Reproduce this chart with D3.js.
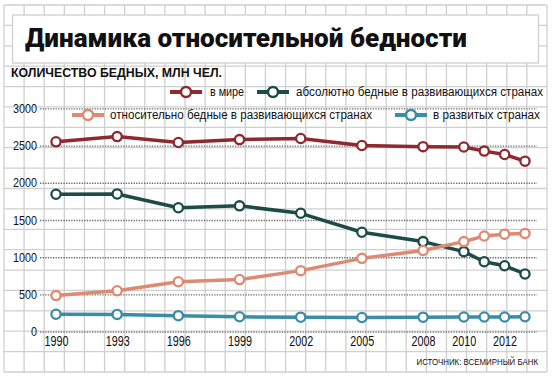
<!DOCTYPE html>
<html>
  <head>
    <meta charset='utf-8' />
    <title>Динамика относительной бедности</title>
    <script src="https://d3js.org/d3.v7.min.js"></script>
    <style>
body {
  margin: 0;
  background: #fff;
  font-family: "Liberation Sans", Arial, sans-serif;
}
.grid line {
  stroke: #cfcfcf;
  stroke-width: 1.3px;
}
.yaxis line {
  stroke: #6a6a6a;
  stroke-width: 1.3px;
  stroke-dasharray: 1.3,1.3;
}
.yaxis path, .xaxis path, .xaxis line {
  display: none;
}
.yaxis text, .xaxis text {
  font-family: "Liberation Sans Narrow", "Liberation Sans", Arial, sans-serif;
  fill: #111;
}
.narrow {
  font-family: "Liberation Sans Narrow", "Liberation Sans", Arial, sans-serif;
}
    </style>
  </head>
  <body>
    <div id="graphic"></div>
    <script>
      // data, millions of people
      const years = [1990, 1993, 1996, 1999, 2002, 2005, 2008, 2010, 2011, 2012, 2013];
      const world = [2550, 2620, 2540, 2580, 2595, 2500, 2485, 2480, 2425, 2380, 2290];
      const absPoor = [1845, 1850, 1665, 1690, 1590, 1335, 1210, 1075, 940, 885, 775];
      const relPoor = [485, 550, 670, 700, 820, 985, 1090, 1210, 1285, 1310, 1320];
      const developed = [235, 232, 215, 200, 195, 190, 195, 198, 198, 198, 200];

      const xTicks = [1990, 1993, 1996, 1999, 2002, 2005, 2008, 2010, 2012];
      const yTicks = [0, 500, 1000, 1500, 2000, 2500, 3000];

      const seriesNames = ["в мире", "абсолютно бедные в развивающихся странах",
                           "относительно бедные в развивающихся странах", "в развитых странах"];
      const seriesColors = ["#8e2930", "#1d4b46", "#de8a72", "#3a8ca7"];
      const seriesValues = [world, absPoor, relPoor, developed];

      const W = 552, H = 380;

      const svg = d3.select("#graphic").append("svg")
        .attr("width", W)
        .attr("height", H);

      // graph paper background
      const grid = svg.append("g").attr("class", "grid");
      const gx = d3.scaleLinear().domain([0, 27]).range([4, 547]);
      const gy = d3.scaleLinear().domain([0, 18]).range([5, 372]);
      grid.selectAll(".v").data(d3.range(28)).enter().append("line")
        .attr("x1", d => gx(d)).attr("x2", d => gx(d))
        .attr("y1", gy(0)).attr("y2", gy(18));
      grid.selectAll(".h").data(d3.range(19)).enter().append("line")
        .attr("x1", gx(0)).attr("x2", gx(27))
        .attr("y1", d => gy(d)).attr("y2", d => gy(d));

      // title box
      svg.append("rect")
        .attr("x", 12.5).attr("y", 15)
        .attr("width", 526).attr("height", 48)
        .style("fill", "#fff")
        .style("stroke", "#cfcfcf")
        .style("stroke-width", 1.3);

      svg.append("text")
        .attr("x", 25).attr("y", 47)
        .attr("textLength", 442)
        .attr("lengthAdjust", "spacingAndGlyphs")
        .style("font-family", "Roboto, 'DejaVu Sans', sans-serif")
        .style("font-weight", 900)
        .style("font-size", "25px")
        .style("fill", "#111")
        .text("Динамика относительной бедности");

      svg.append("text")
        .attr("class", "narrow")
        .attr("x", 11).attr("y", 77)
        .attr("textLength", 211)
        .attr("lengthAdjust", "spacingAndGlyphs")
        .style("font-weight", "bold")
        .style("font-size", "13.5px")
        .style("fill", "#111")
        .text("КОЛИЧЕСТВО БЕДНЫХ, МЛН ЧЕЛ.");

      // scales
      const x = d3.scaleLinear().domain([1990, 2013]).range([56, 525]);
      const y = d3.scaleLinear().domain([0, 3000]).range([331.7, 108.3]);

      // y axis with dotted lines
      const yAxis = svg.append("g")
        .attr("class", "yaxis")
        .attr("transform", "translate(40,0)")
        .call(d3.axisLeft(y).tickValues(yTicks).tickFormat(d3.format("d")).tickSize(-497).tickPadding(3));
      yAxis.selectAll("text")
        .style("font-size", "13px")
        .attr("textLength", d => String(d).length * 6)
        .attr("lengthAdjust", "spacingAndGlyphs");

      // x axis labels
      const xAxis = svg.append("g")
        .attr("class", "xaxis")
        .attr("transform", "translate(0,333)")
        .call(d3.axisBottom(x).tickValues(xTicks).tickFormat(d3.format("d")).tickSize(0).tickPadding(3));
      xAxis.selectAll("text")
        .style("font-size", "14.5px")
        .attr("textLength", 24)
        .attr("lengthAdjust", "spacingAndGlyphs");

      // series lines
      const line = d3.line()
        .x((d, i) => x(years[i]))
        .y(d => y(d));

      const drawOrder = [3, 1, 2, 0];
      drawOrder.forEach(k => {
        const g = svg.append("g");
        g.append("path")
          .datum(seriesValues[k])
          .attr("d", line)
          .style("fill", "none")
          .style("stroke", seriesColors[k])
          .style("stroke-width", 3.5)
          .style("stroke-linejoin", "round");
        g.selectAll("circle")
          .data(seriesValues[k])
          .enter()
          .append("circle")
          .attr("cx", (d, i) => x(years[i]))
          .attr("cy", d => y(d))
          .attr("r", 4.6)
          .style("fill", "#fff")
          .style("stroke", seriesColors[k])
          .style("stroke-width", 2.3);
      });

      // legend
      const legendPos = [
        {x: 170, y: 92, tx: 210, tw: 34},
        {x: 257, y: 92, tx: 296, tw: 247},
        {x: 72, y: 115, tx: 110, tw: 262},
        {x: 395, y: 115, tx: 433, tw: 107}
      ];
      legendPos.forEach((p, k) => {
        const g = svg.append("g");
        g.append("line")
          .attr("x1", p.x).attr("x2", p.x + 32)
          .attr("y1", p.y).attr("y2", p.y)
          .style("stroke", seriesColors[k])
          .style("stroke-width", 4);
        g.append("circle")
          .attr("cx", p.x + 16).attr("cy", p.y)
          .attr("r", 5)
          .style("fill", "#fff")
          .style("stroke", seriesColors[k])
          .style("stroke-width", 2.5);
        g.append("text")
          .attr("x", p.tx).attr("y", p.y + 4)
          .attr("textLength", p.tw)
          .attr("lengthAdjust", "spacingAndGlyphs")
          .style("font-size", "12px")
          .style("fill", "#111")
          .text(seriesNames[k]);
      });

      // source, squeezed horizontally like the condensed original
      svg.append("g")
        .attr("transform", "translate(538,365) scale(0.83,1)")
        .append("text")
        .attr("class", "narrow")
        .attr("text-anchor", "end")
        .style("font-size", "9.5px")
        .style("fill", "#111")
        .text("ИСТОЧНИК: ВСЕМИРНЫЙ БАНК");
    </script>
  </body>
</html>
